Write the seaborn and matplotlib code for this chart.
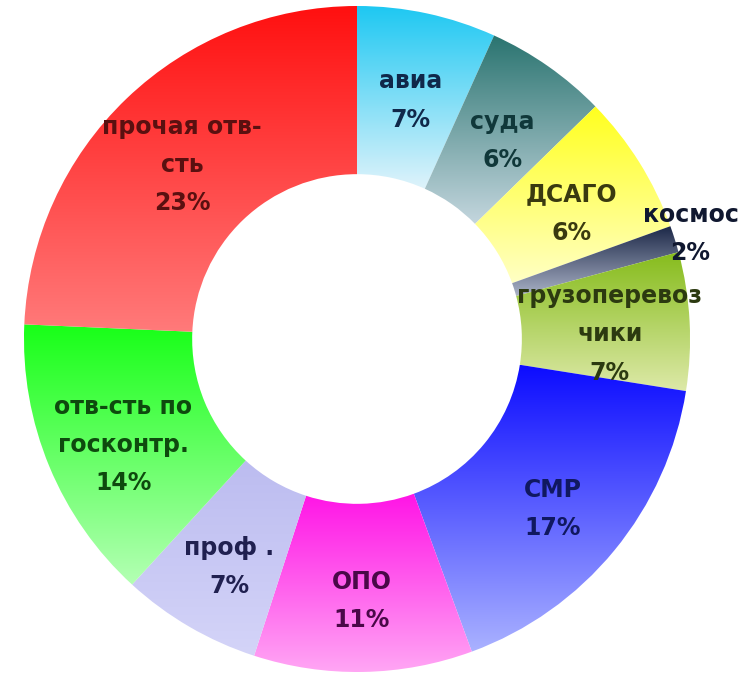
import numpy as np
import matplotlib
matplotlib.use("Agg")
import matplotlib.pyplot as plt
import seaborn as sns

# Donut chart: liability insurance structure by line of business
# (clockwise from 12 o'clock)

categories = ["авиа", "суда", "ДСАГО", "космос", "грузоперевоз\nчики",
              "СМР", "ОПО", "проф .", "отв-сть по\nгосконтр.", "прочая отв-\nсть"]
shares = [6.75, 5.95, 6.8, 1.3, 6.7, 16.9, 10.6, 6.8, 13.9, 24.3]
pct_labels = ["7%", "6%", "6%", "2%", "7%", "17%", "11%", "7%", "14%", "23%"]

# vertical gradient per slice: colour at the top and at the bottom
top_colors = ["#1ec8f2", "#2a7470", "#ffff1e", "#1c2848", "#86bc1c",
              "#0c0cff", "#ff14e6", "#bcbcf0", "#18ff18", "#ff1010"]
bottom_colors = ["#dff3fb", "#c4d6de", "#ffffc4", "#aab2c6", "#dde9a8",
                 "#aab2ff", "#ffa6f4", "#d4d4f8", "#b4ffb4", "#ff7a7a"]
text_colors = ["#10284a", "#10383a", "#3a3a10", "#101830", "#2c3a10",
               "#101860", "#4a0848", "#202050", "#0e4a0e", "#5a1010"]

sns.set_theme(style="white")
plt.rcParams["font.family"] = ["DejaVu Sans"]

fig = plt.figure(figsize=(7.44, 6.78), dpi=100)
ax = fig.add_axes([0, 0, 1, 1])

wedges, _ = ax.pie(shares, startangle=90, counterclock=False, radius=1.0,
                   wedgeprops=dict(width=0.505, linewidth=0))

grad = np.linspace(0, 1, 256).reshape(-1, 1)
for w, top, bot in zip(wedges, top_colors, bottom_colors):
    cmap = sns.blend_palette([bot, top], as_cmap=True)
    bb = w.get_path().get_extents()
    im = ax.imshow(grad, extent=(bb.x0, bb.x1, bb.y0, bb.y1), origin="lower",
                   cmap=cmap, aspect="auto", interpolation="bicubic", zorder=1)
    im.set_clip_path(w)
    w.set_facecolor("none")

# labels in the middle of the ring, "космос" outside
for w, name, pct, tcol in zip(wedges, categories, pct_labels, text_colors):
    ang = np.deg2rad((w.theta1 + w.theta2) / 2)
    if name == "космос":
        x, y = 1.05 * np.cos(ang), 1.05 * np.sin(ang)
    else:
        x, y = 0.76 * np.cos(ang), 0.76 * np.sin(ang) - 0.027
    ax.text(x, y, f"{name}\n{pct}",
            ha="center", va="center", fontsize=17, fontweight="bold",
            color=tcol, linespacing=1.75, zorder=3)

ax.set_xlim(-1.072, 1.162)
ax.set_ylim(-1.018, 1.018)
ax.axis("off")

plt.savefig("out.png", dpi=100)
plt.close()
